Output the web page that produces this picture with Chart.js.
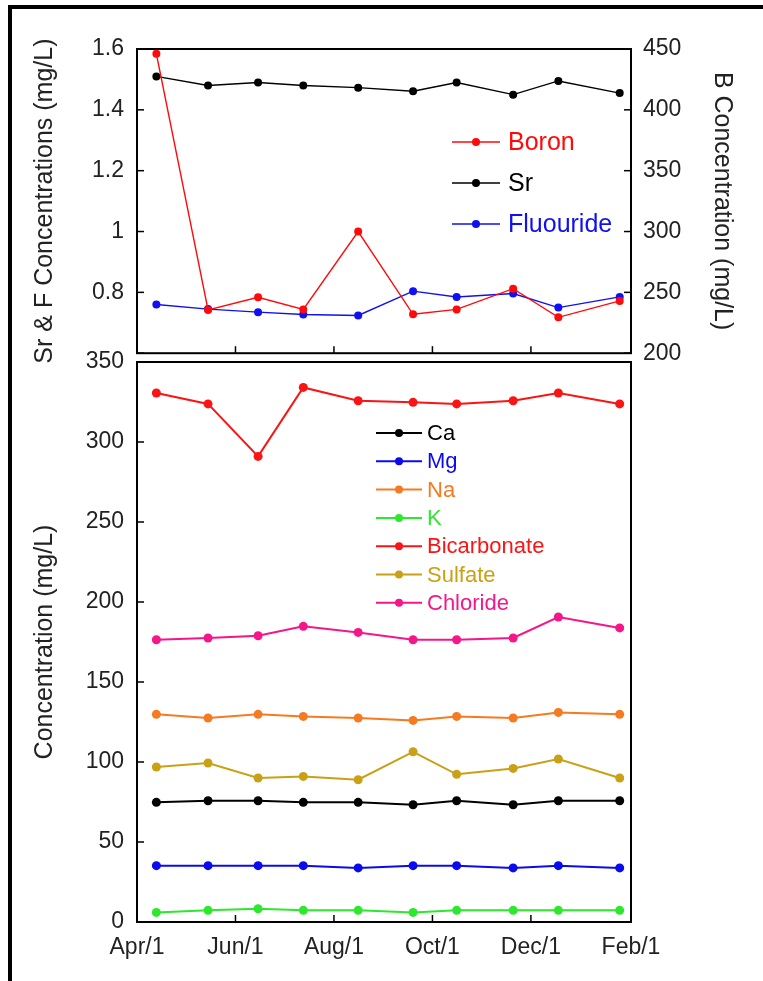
<!DOCTYPE html>
<html><head><meta charset="utf-8">
<script src="https://cdn.jsdelivr.net/npm/chart.js@4.4.0/dist/chart.umd.min.js"></script>
<style>
html,body{margin:0;padding:0;background:#fff;}
body{width:763px;height:981px;position:relative;overflow:hidden;}
#frame{position:absolute;left:8px;top:5px;width:800px;height:1000px;border-top:4px solid #000;border-left:4px solid #000;}
#c1{position:absolute;left:0;top:0;}
#c2{position:absolute;left:0;top:330px;}
</style></head><body>
<div id="frame"></div>
<canvas id="c1" width="763" height="380"></canvas>
<canvas id="c2" width="763" height="651"></canvas>
<script>
// ---- data ----
const sampleDays = [12, 44, 75, 103, 137, 171, 198, 233, 261, 299]; // days after Apr/1
const monthTickDays = [0, 61, 122, 183, 244, 306];
const monthTickLabels = ['Apr/1', 'Jun/1', 'Aug/1', 'Oct/1', 'Dec/1', 'Feb/1'];

const srfTickValues = [0.6, 0.8, 1, 1.2, 1.4, 1.6];
const srfTickLabels = ['', '0.8', '1', '1.2', '1.4', '1.6'];
const boronTickValues = [200, 250, 300, 350, 400, 450];
const boronTickLabels = ['200', '250', '300', '350', '400', '450'];
const concTickValues = [0, 50, 100, 150, 200, 250, 300, 350];
const concTickLabels = ['0', '50', '100', '150', '200', '250', '300', '350'];

const boron    = [446, 235.5, 246, 236, 300, 232, 236, 253, 229.5, 243];
const sr       = [1.51, 1.48, 1.49, 1.48, 1.473, 1.461, 1.49, 1.45, 1.495, 1.455];
const fluoride = [0.76, 0.745, 0.735, 0.727, 0.724, 0.804, 0.785, 0.796, 0.75, 0.785];

const ca          = [74.8, 75.8, 75.8, 74.8, 74.8, 73.3, 75.8, 73.3, 75.8, 75.8];
const mg          = [35.2, 35.2, 35.2, 35.2, 33.8, 35.2, 35.2, 33.8, 35.2, 33.8];
const na          = [129.8, 127.5, 129.8, 128.5, 127.5, 126, 128.5, 127.5, 131, 129.8];
const k           = [6, 7.3, 8.3, 7.3, 7.3, 6, 7.3, 7.3, 7.3, 7.3];
const bicarbonate = [330.6, 323.8, 291, 334.1, 325.8, 324.8, 323.8, 325.8, 330.6, 323.8];
const sulfate     = [96.9, 99.4, 90, 91, 88.9, 106.4, 92.3, 96, 101.9, 90];
const chloride    = [176.4, 177.5, 178.9, 184.8, 181, 176.4, 176.4, 177.5, 190.6, 183.8];

// ---- helpers ----
const FONT = "'Liberation Sans', Arial, sans-serif";
const pts = arr => sampleDays.map((d, i) => ({x: d, y: arr[i]}));
function series(label, arr, color, yID, bw, r) {
  return {label, data: pts(arr), borderColor: color, backgroundColor: color,
    pointBackgroundColor: color, pointBorderWidth: 0, pointRadius: r,
    borderWidth: bw, yAxisID: yID, clip: false, tension: 0};
}
function fixedTicks(values) {
  return function (scale) { scale.ticks = values.map(v => ({value: v})); };
}

const frameAndTicks = {
  id: 'frameAndTicks',
  beforeDatasetsDraw(chart, args, o) {
    const ctx = chart.ctx, a = chart.chartArea;
    ctx.save();
    ctx.strokeStyle = '#000';
    ctx.lineWidth = 2;
    ctx.strokeRect(a.left, a.top, a.right - a.left, a.bottom - a.top);
    ctx.lineWidth = 1.5;
    (o.axes || []).forEach(ax => {
      const s = chart.scales[ax.id];
      const len = ax.len || 7;
      s.ticks.forEach(t => {
        const p = s.getPixelForValue(t.value);
        ctx.beginPath();
        if (ax.side === 'left') { ctx.moveTo(a.left, p); ctx.lineTo(a.left + len, p); }
        else if (ax.side === 'right') { ctx.moveTo(a.right, p); ctx.lineTo(a.right - len, p); }
        else { ctx.moveTo(p, a.bottom); ctx.lineTo(p, a.bottom - len); }
        ctx.stroke();
      });
    });
    ctx.restore();
  }
};

const innerLegend = {
  id: 'innerLegend',
  afterDatasetsDraw(chart, args, o) {
    const ctx = chart.ctx;
    chart.data.datasets.forEach((ds, i) => {
      const y = o.y + i * o.dy;
      ctx.save();
      ctx.strokeStyle = ds.borderColor;
      ctx.lineWidth = ds.borderWidth;
      ctx.beginPath(); ctx.moveTo(o.x, y); ctx.lineTo(o.x + o.len, y); ctx.stroke();
      ctx.fillStyle = ds.borderColor;
      ctx.beginPath(); ctx.arc(o.x + o.len / 2, y, o.r, 0, Math.PI * 2); ctx.fill();
      ctx.font = o.font;
      ctx.textBaseline = 'middle';
      ctx.textAlign = 'left';
      ctx.fillText(ds.label, o.x + o.len + o.gap, y + 1);
      ctx.restore();
    });
  }
};

const tickFont = {family: FONT, size: 23};
const titleFont = {family: FONT, size: 25};
const TXT = '#222';

// ---- top chart ----
new Chart(document.getElementById('c1'), {
  type: 'line',
  data: {datasets: [
    series('Boron', boron, '#ff0a0a', 'yB', 1.4, 4),
    series('Sr', sr, '#000000', 'ySr', 1.4, 4),
    series('Fluouride', fluoride, '#1010f0', 'ySr', 1.4, 4)
  ]},
  options: {
    responsive: false, animation: false, devicePixelRatio: 1,
    layout: {padding: {top: 49, left: 0, right: 0, bottom: 0}},
    plugins: {
      legend: {display: false}, tooltip: {enabled: false},
      frameAndTicks: {axes: [{id: 'ySr', side: 'left'}, {id: 'yB', side: 'right'}, {id: 'x', side: 'bottom'}]},
      innerLegend: {x: 452, y: 142, dy: 41, len: 48, gap: 8, r: 4, font: "25px " + FONT}
    },
    scales: {
      x: {type: 'linear', min: 0, max: 306,
        afterBuildTicks: fixedTicks(monthTickDays),
        afterFit: s => { s.height = 18.5; },
        grid: {display: false, drawTicks: false}, border: {display: false},
        ticks: {display: false}},
      ySr: {type: 'linear', position: 'left', min: 0.6, max: 1.6,
        afterBuildTicks: fixedTicks(srfTickValues),
        afterFit: s => { s.width = 137; },
        grid: {display: false, drawTicks: false}, border: {display: false},
        ticks: {padding: 13, color: TXT, font: tickFont, callback: (v, i) => srfTickLabels[i]},
        title: {display: true, text: 'Sr & F Concentrations (mg/L)', color: TXT, font: titleFont, padding: {top: 30, bottom: 0}}},
      yB: {type: 'linear', position: 'right', min: 200, max: 450,
        afterBuildTicks: fixedTicks(boronTickValues),
        afterFit: s => { s.width = 132; },
        grid: {display: false, drawTicks: false}, border: {display: false},
        ticks: {padding: 12, color: TXT, font: tickFont, callback: (v, i) => boronTickLabels[i]},
        title: {display: true, text: 'B Concentration (mg/L)', color: TXT, font: titleFont, padding: {top: 26, bottom: 0}}}
    }
  },
  plugins: [frameAndTicks, innerLegend]
});

// ---- bottom chart ----
new Chart(document.getElementById('c2'), {
  type: 'line',
  data: {datasets: [
    series('Ca', ca, '#000000', 'y', 2, 4.5),
    series('Mg', mg, '#0a0aee', 'y', 2, 4.5),
    series('Na', na, '#f57a22', 'y', 2, 4.5),
    series('K', k, '#2ee82e', 'y', 2, 4.5),
    series('Bicarbonate', bicarbonate, '#fa1414', 'y', 2, 4.5),
    series('Sulfate', sulfate, '#c9a016', 'y', 2, 4.5),
    series('Chloride', chloride, '#f5168a', 'y', 2, 4.5)
  ]},
  options: {
    responsive: false, animation: false, devicePixelRatio: 1,
    layout: {padding: {top: 32, left: 0, right: 132, bottom: 0}},
    plugins: {
      legend: {display: false}, tooltip: {enabled: false},
      frameAndTicks: {axes: [{id: 'y', side: 'left'}, {id: 'x', side: 'bottom'}]},
      innerLegend: {x: 376, y: 103, dy: 28.3, len: 46, gap: 5, r: 4, font: "22px " + FONT}
    },
    scales: {
      x: {type: 'linear', min: 0, max: 306,
        afterBuildTicks: fixedTicks(monthTickDays),
        afterFit: s => { s.height = 59; },
        grid: {display: false, drawTicks: false}, border: {display: false},
        ticks: {padding: 12, color: TXT, font: tickFont, autoSkip: false, maxRotation: 0,
          callback: (v, i) => monthTickLabels[i]}},
      y: {type: 'linear', position: 'left', min: 0, max: 350,
        afterBuildTicks: fixedTicks(concTickValues),
        afterFit: s => { s.width = 137; },
        grid: {display: false, drawTicks: false}, border: {display: false},
        ticks: {padding: 13, color: TXT, font: tickFont, callback: (v, i) => concTickLabels[i]},
        title: {display: true, text: 'Concentration (mg/L)', color: TXT, font: titleFont, padding: {top: 30, bottom: 0}}}
    }
  },
  plugins: [frameAndTicks, innerLegend]
});
</script>
</body></html>
